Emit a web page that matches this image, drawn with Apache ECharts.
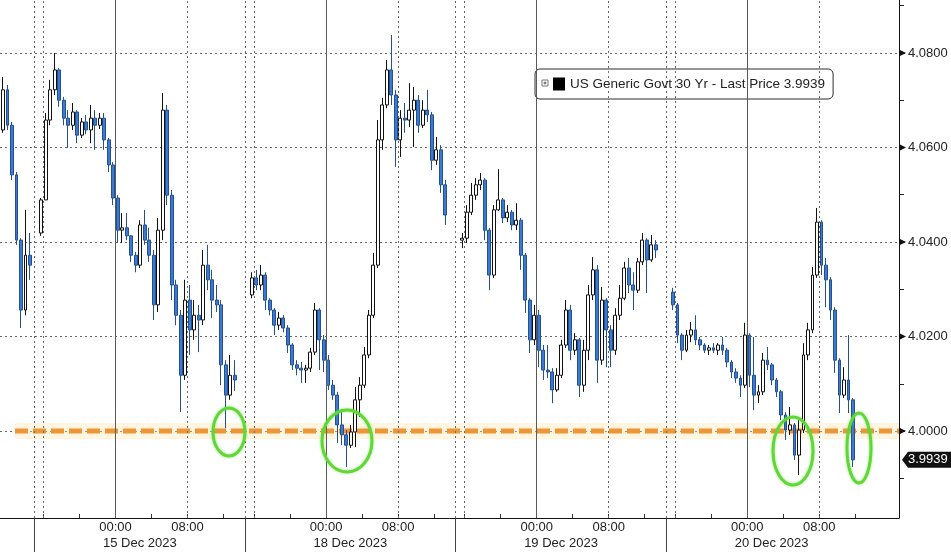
<!DOCTYPE html>
<html><head><meta charset="utf-8">
<script src="https://cdn.jsdelivr.net/npm/echarts@6/dist/echarts.min.js"></script>
<style>html,body{margin:0;padding:0;background:#fff}#c{width:951px;height:552px}</style>
</head><body><div id="c"></div>
<script>
// ---- data (yield %, 30-minute OHLC bars) ----
const seriesLabel = 'US Generic Govt 30 Yr - Last Price';
const sessionStarts = [0, 23.4, 46.8, 70.2];          // hours on the compressed trading-time axis
const sessionDates = ['15 Dec 2023', '18 Dec 2023', '19 Dec 2023', '20 Dec 2023'];
const sessionLength = 23.4;
const tickHours = [1, 5, 9, 13, 17, 21];              // hours after session start (16:00, 20:00, ...)
const labelHours = [9, 17];
const labelTexts = ['00:00', '08:00'];
const firstBarTime = [-3.5, 0.75, 24.15, 47.55, 70.95];
const barStep = 0.5;
const refLevel = 4.0;
const refStart = -2.17;
const yTicks = [4.00, 4.02, 4.04, 4.06, 4.08];
const yMinorTicks = [3.99, 4.01, 4.03, 4.05, 4.07, 4.09];
const highlightTimes = [21.61, 34.72, 84.28, 91.61];
const highlightLevels = [3.9998, 3.9979, 3.9958, 3.9964];

// [open, high, low, close]
const bars14 = [
[4.0637,4.0749,4.0631,4.0722],[4.0722,4.0732,4.0637,4.0647],[4.0647,4.0654,4.0531,4.0542],
[4.0542,4.0548,4.0394,4.0404],[4.0404,4.0408,4.0218,4.0256],[4.0256,4.0468,4.0245,4.0372],
[4.0372,4.0419,4.0320,4.0351]
];
const bars15 = [
[4.0419,4.0493,4.0413,4.0489],[4.0489,4.0673,4.0489,4.0658],[4.0658,4.0743,4.0647,4.0722],
[4.0722,4.0800,4.0711,4.0764],[4.0764,4.0768,4.0686,4.0700],[4.0700,4.0707,4.0647,4.0662],
[4.0662,4.0679,4.0599,4.0647],[4.0647,4.0694,4.0637,4.0675],[4.0675,4.0679,4.0609,4.0626],
[4.0626,4.0662,4.0620,4.0654],[4.0654,4.0669,4.0628,4.0637],[4.0637,4.0690,4.0609,4.0662],
[4.0662,4.0679,4.0595,4.0647],[4.0647,4.0673,4.0639,4.0662],[4.0662,4.0673,4.0595,4.0616],
[4.0616,4.0620,4.0548,4.0563],[4.0563,4.0569,4.0478,4.0493],[4.0493,4.0499,4.0398,4.0425],
[4.0425,4.0461,4.0398,4.0430],[4.0430,4.0461,4.0404,4.0413],[4.0413,4.0415,4.0358,4.0372],
[4.0372,4.0379,4.0336,4.0351],[4.0351,4.0446,4.0345,4.0436],[4.0436,4.0468,4.0394,4.0404],
[4.0404,4.0430,4.0358,4.0372],[4.0372,4.0383,4.0235,4.0267],[4.0267,4.0451,4.0252,4.0425],
[4.0425,4.0715,4.0404,4.0679],[4.0679,4.0690,4.0478,4.0499],[4.0499,4.0510,4.0277,4.0309],
[4.0309,4.0320,4.0224,4.0245],[4.0245,4.0256,4.0040,4.0118],[4.0118,4.0320,4.0108,4.0277],
[4.0277,4.0309,4.0161,4.0214],[4.0214,4.0277,4.0193,4.0245],[4.0245,4.0267,4.0167,4.0235],
[4.0235,4.0383,4.0224,4.0351],[4.0351,4.0394,4.0298,4.0320],[4.0320,4.0341,4.0239,4.0277],
[4.0277,4.0309,4.0252,4.0267],[4.0267,4.0277,4.0097,4.0140],[4.0140,4.0150,4.0006,4.0076],
[4.0076,4.0161,4.0066,4.0118],[4.0118,4.0150,4.0085,4.0108]
];
const bars18 = [
[4.0288,4.0336,4.0281,4.0324],[4.0324,4.0341,4.0298,4.0309],[4.0309,4.0351,4.0298,4.0330],
[4.0330,4.0336,4.0256,4.0277],[4.0277,4.0281,4.0245,4.0256],[4.0256,4.0260,4.0203,4.0224],
[4.0224,4.0252,4.0214,4.0239],[4.0239,4.0245,4.0209,4.0218],[4.0218,4.0224,4.0165,4.0182],
[4.0182,4.0186,4.0129,4.0140],[4.0140,4.0150,4.0118,4.0133],[4.0133,4.0146,4.0102,4.0129],
[4.0129,4.0140,4.0102,4.0133],[4.0133,4.0176,4.0125,4.0167],[4.0167,4.0271,4.0161,4.0256],
[4.0256,4.0260,4.0129,4.0193],[4.0193,4.0203,4.0125,4.0150],[4.0150,4.0161,4.0087,4.0097],
[4.0097,4.0108,4.0066,4.0076],[4.0076,4.0083,3.9975,4.0013],[4.0013,4.0044,3.9970,3.9992],
[3.9992,4.0002,3.9924,3.9970],[3.9970,4.0013,3.9964,3.9998],[3.9998,4.0093,3.9966,4.0066],
[4.0066,4.0114,4.0030,4.0097],[4.0097,4.0178,4.0091,4.0161],[4.0161,4.0256,4.0154,4.0245],
[4.0245,4.0377,4.0239,4.0351],[4.0351,4.0658,4.0345,4.0616],[4.0616,4.0705,4.0595,4.0690],
[4.0690,4.0785,4.0683,4.0764],[4.0764,4.0838,4.0690,4.0711],[4.0711,4.0722,4.0559,4.0616],
[4.0616,4.0679,4.0580,4.0662],[4.0662,4.0694,4.0631,4.0658],[4.0658,4.0736,4.0643,4.0679],
[4.0679,4.0728,4.0601,4.0700],[4.0700,4.0711,4.0631,4.0647],[4.0647,4.0700,4.0641,4.0679],
[4.0679,4.0722,4.0654,4.0669],[4.0669,4.0675,4.0552,4.0573],[4.0573,4.0622,4.0563,4.0595],
[4.0595,4.0605,4.0504,4.0521],[4.0521,4.0531,4.0436,4.0457]
];
const bars19 = [
[4.0404,4.0419,4.0387,4.0408],[4.0408,4.0478,4.0398,4.0463],[4.0463,4.0525,4.0457,4.0499],
[4.0499,4.0535,4.0489,4.0521],[4.0521,4.0546,4.0510,4.0531],[4.0531,4.0535,4.0404,4.0425],
[4.0425,4.0430,4.0298,4.0330],[4.0330,4.0478,4.0324,4.0468],[4.0468,4.0554,4.0466,4.0489],
[4.0489,4.0493,4.0440,4.0451],[4.0451,4.0478,4.0442,4.0463],[4.0463,4.0468,4.0425,4.0436],
[4.0436,4.0482,4.0425,4.0446],[4.0446,4.0451,4.0341,4.0372],[4.0372,4.0377,4.0250,4.0277],
[4.0277,4.0281,4.0165,4.0193],[4.0193,4.0267,4.0182,4.0245],[4.0245,4.0256,4.0135,4.0171],
[4.0171,4.0182,4.0108,4.0129],[4.0129,4.0182,4.0112,4.0125],[4.0125,4.0133,4.0059,4.0087],
[4.0087,4.0133,4.0083,4.0118],[4.0118,4.0193,4.0112,4.0182],[4.0182,4.0277,4.0176,4.0256],
[4.0256,4.0267,4.0150,4.0171],[4.0171,4.0207,4.0161,4.0193],[4.0193,4.0197,4.0072,4.0097],
[4.0097,4.0193,4.0083,4.0171],[4.0171,4.0309,4.0150,4.0288],[4.0288,4.0368,4.0277,4.0341],
[4.0341,4.0351,4.0102,4.0150],[4.0150,4.0305,4.0140,4.0277],[4.0277,4.0281,4.0135,4.0214],
[4.0214,4.0224,4.0135,4.0171],[4.0171,4.0260,4.0161,4.0245],[4.0245,4.0309,4.0235,4.0281],
[4.0281,4.0358,4.0277,4.0345],[4.0345,4.0366,4.0292,4.0309],[4.0309,4.0336,4.0256,4.0298],
[4.0298,4.0366,4.0292,4.0358],[4.0358,4.0419,4.0351,4.0404],[4.0404,4.0408,4.0292,4.0362],
[4.0362,4.0415,4.0358,4.0394],[4.0394,4.0404,4.0366,4.0383]
];
const bars20 = [
[4.0294,4.0303,4.0256,4.0267],[4.0267,4.0271,4.0186,4.0203],[4.0203,4.0207,4.0150,4.0171],
[4.0171,4.0214,4.0167,4.0203],[4.0203,4.0231,4.0188,4.0214],[4.0214,4.0245,4.0182,4.0193],
[4.0193,4.0199,4.0171,4.0182],[4.0182,4.0186,4.0165,4.0171],[4.0171,4.0182,4.0161,4.0176],
[4.0176,4.0186,4.0165,4.0171],[4.0171,4.0186,4.0161,4.0182],[4.0182,4.0199,4.0161,4.0171],
[4.0171,4.0176,4.0135,4.0146],[4.0146,4.0150,4.0112,4.0125],[4.0125,4.0133,4.0102,4.0112],
[4.0112,4.0118,4.0072,4.0097],[4.0097,4.0229,4.0091,4.0203],[4.0203,4.0207,4.0093,4.0118],
[4.0118,4.0199,4.0044,4.0076],[4.0076,4.0097,4.0059,4.0083],[4.0083,4.0165,4.0076,4.0150],
[4.0150,4.0178,4.0129,4.0140],[4.0140,4.0144,4.0097,4.0108],[4.0108,4.0112,4.0072,4.0083],
[4.0083,4.0087,4.0023,4.0034],[4.0034,4.0040,3.9981,4.0002],[4.0002,4.0051,3.9992,4.0013],
[4.0013,4.0017,3.9939,3.9949],[3.9949,4.0023,3.9907,4.0002],[4.0002,4.0186,3.9996,4.0161],
[4.0161,4.0229,4.0150,4.0214],[4.0214,4.0347,4.0207,4.0330],[4.0330,4.0472,4.0324,4.0442],
[4.0442,4.0446,4.0330,4.0351],[4.0351,4.0366,4.0262,4.0320],[4.0320,4.0326,4.0235,4.0256],
[4.0256,4.0262,4.0123,4.0150],[4.0150,4.0154,4.0038,4.0076],[4.0076,4.0135,4.0070,4.0108],
[4.0108,4.0203,4.0038,4.0066],[4.0066,4.0070,3.9924,3.9939]
];

// ---- build ----
const xMin = -3.833, xMax = 96.056, yMin = 3.9816, yMax = 4.0912;
const FONT = '"Liberation Sans", Arial, sans-serif';
const blocks = [bars14, bars15, bars18, bars19, bars20];
const candles = [];
blocks.forEach((b, k) => b.forEach((d, i) => {
  candles.push([firstBarTime[k] + barStep * i, d[0], d[3], d[2], d[1]]);
}));
const lastBar = bars20[bars20.length - 1];
const lastPrice = lastBar[3];
const legendName = seriesLabel + ' ' + lastPrice.toFixed(4);

const tickVals = [], labelVals = [], labelMap = {};
sessionStarts.forEach(s => {
  tickHours.forEach(h => tickVals.push(+(s + h).toFixed(3)));
  labelHours.forEach((h, j) => { const v = +(s + h).toFixed(3); labelVals.push(v); labelMap[v] = labelTexts[j]; });
});
const dateCenters = sessionStarts.map(s => +(s + sessionLength / 2).toFixed(3));
const dateMap = {}; dateCenters.forEach((v, i) => dateMap[v] = sessionDates[i]);

const dotted = { type: [2, 3], color: '#666', width: 1 };
const vLines = [];
sessionStarts.forEach(s => {
  vLines.push({ xAxis: s, lineStyle: dotted });
  vLines.push({ xAxis: s + tickHours[0], lineStyle: dotted });
  vLines.push({ xAxis: s + labelHours[0], lineStyle: { type: 'solid', color: '#5a5a5a', width: 1 } });
  vLines.push({ xAxis: s + labelHours[1], lineStyle: dotted });
});

const chart = echarts.init(document.getElementById('c'), null, { renderer: 'canvas' });
chart.setOption({
  animation: false,
  backgroundColor: '#fff',
  grid: { left: 0, right: 52, top: 0, bottom: 34, containLabel: false },
  legend: {
    left: 535, top: 69, padding: [7, 8, 7, 18], itemWidth: 12, itemHeight: 13,
    borderColor: '#2b2b2b', borderWidth: 1, borderRadius: 5, backgroundColor: '#fff',
    selectedMode: false,
    textStyle: { fontFamily: FONT, fontSize: 13.5, color: '#222', lineHeight: 16 },
    data: [{ name: legendName, icon: 'rect', itemStyle: { color: '#000', borderWidth: 0 } }]
  },
  xAxis: [
    { type: 'value', min: xMin, max: xMax, position: 'bottom',
      axisLine: { show: true, onZero: false, lineStyle: { color: '#111', width: 1 } },
      axisTick: { show: true, inside: true, length: 4, customValues: tickVals, lineStyle: { color: '#333' } },
      axisLabel: { customValues: labelVals, formatter: v => labelMap[+v.toFixed(3)] || '', margin: 3,
        fontFamily: FONT, fontSize: 13, color: '#222' },
      splitLine: { show: false } },
    { type: 'value', min: xMin, max: xMax, position: 'bottom', offset: 0,
      axisLine: { show: false, onZero: false },
      axisTick: { show: true, inside: false, length: 34, customValues: sessionStarts, lineStyle: { color: '#444' } },
      axisLabel: { customValues: dateCenters, formatter: v => dateMap[+v.toFixed(3)] || '', margin: 19,
        fontFamily: FONT, fontSize: 13, color: '#222' },
      splitLine: { show: false } }
  ],
  yAxis: [
    { type: 'value', position: 'right', min: yMin, max: yMax, minInterval: 0.02, maxInterval: 0.02, splitNumber: 5,
      axisLine: { show: true, onZero: false, lineStyle: { color: '#111', width: 1 } },
      axisTick: { show: true, length: 6, customValues: yTicks, lineStyle: { color: '#111' } },
      axisLabel: { customValues: yTicks, showMinLabel: true, showMaxLabel: true, margin: 9,
        formatter: v => v.toFixed(4), fontFamily: FONT, fontSize: 13, color: '#222' },
      splitLine: { show: true, lineStyle: dotted } },
    { type: 'value', position: 'right', min: yMin, max: yMax, offset: 0,
      axisLine: { show: false, onZero: false },
      axisTick: { show: true, length: 5, customValues: yMinorTicks, lineStyle: { color: '#222' } },
      axisLabel: { show: false }, splitLine: { show: false } }
  ],
  series: [
    { type: 'line', data: [], silent: true, z: 1,
      markLine: { silent: true, symbol: ['none', 'none'], label: { show: false }, animation: false, data: vLines } },
    { type: 'line', silent: true, z: 2, symbol: 'none',
      data: [[refStart, refLevel], [xMax, refLevel]],
      lineStyle: { color: 'rgba(255,226,170,0.35)', width: 16 } },
    { type: 'line', silent: true, z: 2, symbol: 'none',
      data: [[refStart, refLevel], [xMax, refLevel]],
      lineStyle: { color: '#ec9638', width: 5, type: [13, 5] } },
    { type: 'candlestick', name: legendName, z: 3, barWidth: 3.4,
      encode: { x: 0, y: [1, 2, 3, 4] },
      data: candles,
      itemStyle: { color: '#ffffff', color0: '#3a7bd2', borderColor: '#111111', borderColor0: '#24508f', borderWidth: 1 } }
  ]
});

// ---- annotations placed through the axes ----
const px = (t, v) => chart.convertToPixel({ xAxisIndex: 0, yAxisIndex: 0 }, [t, v]);
const radii = [[16, 24], [25, 31], [20, 34], [12, 35]];
const g = [];
highlightTimes.forEach((t, i) => {
  const p = px(t, highlightLevels[i]);
  g.push({ type: 'ellipse', z: 50, silent: true, shape: { cx: p[0], cy: p[1], rx: radii[i][0], ry: radii[i][1] },
    style: { fill: 'none', stroke: '#5fd835', lineWidth: 3, shadowBlur: 3, shadowColor: 'rgba(95,216,53,0.6)' } });
});
const axisX = px(xMax, yMin)[0];
yTicks.forEach(v => {
  const y = px(xMax, v)[1];
  g.push({ type: 'polygon', z: 50, silent: true, shape: { points: [[axisX, y - 3.5], [axisX, y + 3.5], [axisX + 7, y]] },
    style: { fill: '#111' } });
});
const ly = px(xMax, lastPrice)[1];
g.push({ type: 'polygon', z: 50, silent: true,
  shape: { points: [[axisX + 3, ly], [axisX + 9, ly - 8], [951, ly - 8], [951, ly + 8], [axisX + 9, ly + 8]] },
  style: { fill: '#111' } });
g.push({ type: 'text', z: 51, silent: true, x: axisX + 9, y: ly,
  style: { text: lastPrice.toFixed(4), fill: '#fff', font: '13px ' + FONT, verticalAlign: 'middle', align: 'left' } });
// small expand icon inside legend box
g.push({ type: 'rect', z: 60, silent: true, shape: { x: 542, y: 80, width: 6, height: 6 },
  style: { fill: '#fff', stroke: '#777', lineWidth: 1 } });
g.push({ type: 'line', z: 61, silent: true, shape: { x1: 543.5, y1: 83, x2: 546.5, y2: 83 }, style: { stroke: '#555', lineWidth: 1 } });
g.push({ type: 'line', z: 61, silent: true, shape: { x1: 545, y1: 81.5, x2: 545, y2: 84.5 }, style: { stroke: '#555', lineWidth: 1 } });
chart.setOption({ graphic: g });
</script></body></html>
